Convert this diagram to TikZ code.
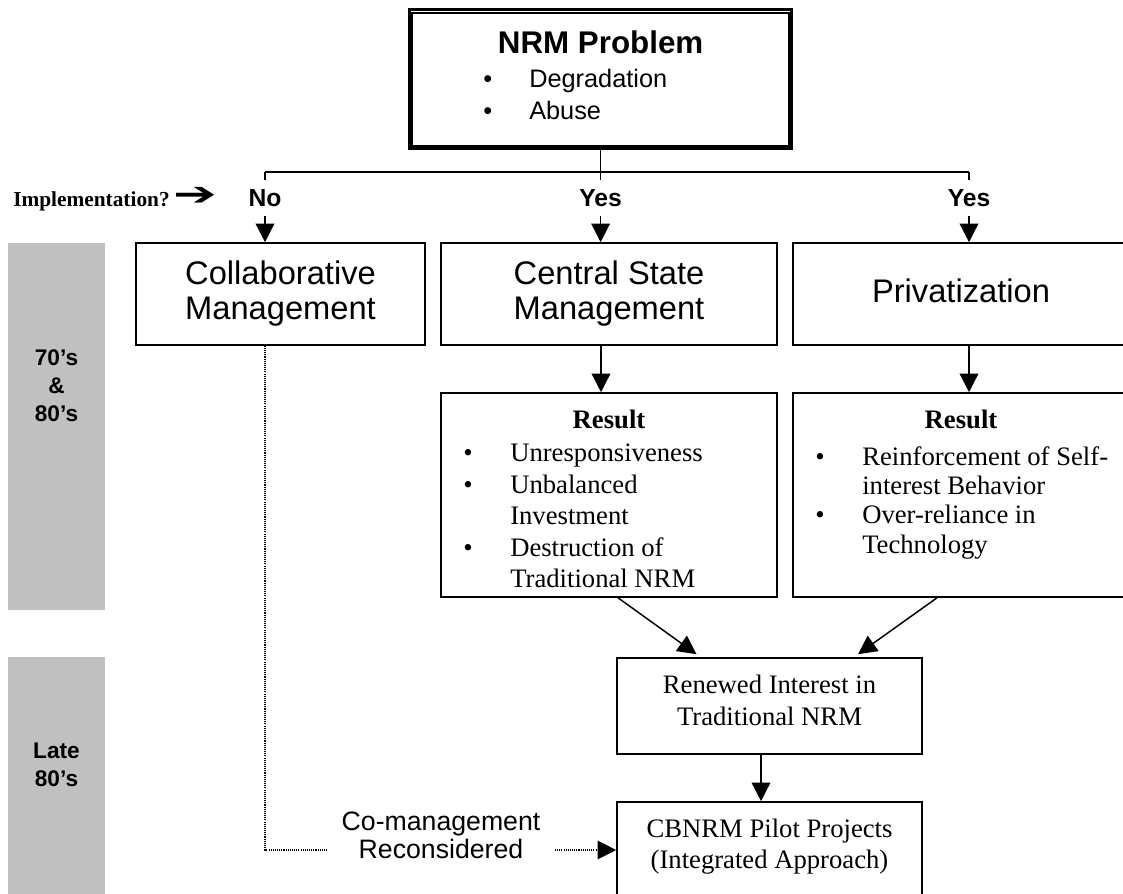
\documentclass[tikz,border=0pt]{standalone}
\usepackage{fontspec}
\setmainfont{Liberation Serif}
\newfontfamily\arialf{Liberation Sans}
\newfontfamily\dejavuf{DejaVu Sans}
\usetikzlibrary{arrows.meta,calc}

\newcommand\fs[2]{\fontsize{#1}{#2}\selectfont}

\begin{document}
\begin{tikzpicture}[x=0.75pt,y=-0.75pt,
  box/.style={draw,line width=1.2pt,inner sep=0pt,align=center},
  band/.style={fill={rgb,255:red,192;green,192;blue,192},draw=none,inner sep=0pt},
  bandtext/.style={font=\arialf\bfseries\fs{17}{21},inner sep=0pt,anchor=base},
  branch/.style={font=\arialf\bfseries\fs{18.5}{22},inner sep=0pt,minimum height={35*0.75pt}},
  arr/.style={-{Triangle[length=14pt,width=14pt]},line width=1.1pt},
  link/.style={line width=1.1pt},
  dots/.style={line width=0.8pt,dash pattern=on 0.8pt off 0.8pt},
  serifbody/.style={font=\fs{20}{23.6},inner sep=0pt},
]
\useasboundingbox (0,0) rectangle (1123,893);
\fill[white] (0,0) rectangle (1123,893);
\clip (0,0) rectangle (1123,893);

% period bands on the left
\node[band,minimum width={97*0.75pt},minimum height={367*0.75pt}] (band1) at (56.5,426.5) {};
\node[band,minimum width={97*0.75pt},minimum height={243*0.75pt}] (band2) at (56.5,778.5) {};
\node[bandtext] (band1t) at (56.5,365) {\begin{tabular}[t]{@{}c@{}}70’s\\\&\\80’s\end{tabular}};
\node[bandtext] (band2t) at (56.5,758) {\begin{tabular}[t]{@{}c@{}}Late\\80’s\end{tabular}};

% problem box with double frame
\node[draw,line width=2.25pt,inner sep=0pt,minimum width={382.3*0.75pt},minimum height={138.7*0.75pt}] (prob) at (600.6,79.2) {};
\draw[line width=1.3pt] ($(prob.north west)+(4.3,4.3)$) rectangle ($(prob.south east)+(-4.3,-4.3)$);
\node[anchor=base,font=\arialf\bfseries\fs{23.5}{28},inner sep=0pt] (probt) at (600.6,53) {NRM Problem};
\node[anchor=base west,font=\arialf\fs{19}{24},inner sep=0pt] (probl) at (483,87)
  {\begin{tabular}[t]{@{}p{34.5pt}@{}l@{}}\textbullet & Degradation\\ \textbullet & Abuse\end{tabular}};

% branching
\coordinate (busL) at (265,172);
\coordinate (busR) at (969,172);
\node[anchor=base west,font=\bfseries\fs{16}{19},inner sep=0pt] (impl) at (13,206)
  {Implementation?\hspace{3pt}\raisebox{0.3pt}{\scalebox{2.3}[1.45]{\dejavuf\fs{17}{19}➔}}};
\node[branch] (no) at (265,198) {No};
\node[branch] (yesA) at (600.6,198) {Yes};
\node[branch] (yesB) at (969,198) {Yes};
\draw[link] (prob.south) -- (prob.south |- busL);
\draw[link] (busL) -- (busR);
\draw[link] (busL) -- (no.north);
\draw[link] (prob.south |- busL) -- (yesA.north);
\draw[link] (busR) -- (yesB.north);

% management options
\node[box,minimum width={289*0.75pt},minimum height={102*0.75pt},font=\arialf\fs{24.5}{26.25}] (collab) at (280.5,294) {Collaborative\\Management};
\node[box,minimum width={336*0.75pt},minimum height={102*0.75pt},font=\arialf\fs{24.5}{26.25}] (cs) at (609,294) {Central State\\Management};
\node[box,minimum width={336*0.75pt},minimum height={102*0.75pt},font=\arialf\fs{24.5}{26.25},text depth=5pt] (priv) at (961,294) {Privatization};
\draw[arr] (no.south) -- (no.south |- collab.north);
\draw[arr] (yesA.south) -- (yesA.south |- cs.north);
\draw[arr] (yesB.south) -- (yesB.south |- priv.north);

% results
\node[box,minimum width={336*0.75pt},minimum height={204*0.75pt}] (csres) at (609,495) {};
\node[box,minimum width={336*0.75pt},minimum height={204*0.75pt}] (prres) at (961,495) {};
\draw[arr] ($(cs.south)+(-8,0)$) -- ($(csres.north)+(-8,0)$);
\draw[arr] ($(priv.south)+(8,0)$) -- ($(prres.north)+(8,0)$);
\node[anchor=base,font=\bfseries\fs{20}{24},inner sep=0pt] (csrest) at (609,428) {Result};
\node[anchor=base,font=\bfseries\fs{20}{24},inner sep=0pt] (prrest) at (961,428) {Result};
\begin{scope}
  \clip (441,393) rectangle (777,588);
  \node[serifbody,anchor=base west] (csresl) at (463,461.7)
    {\begin{tabular}[t]{@{}p{35.25pt}@{}l@{}}
      \textbullet & Unresponsiveness\\
      \textbullet & Unbalanced\\
                  & Investment\\
      \textbullet & Destruction of\\
                  & Traditional NRM
    \end{tabular}};
\end{scope}
\node[serifbody,font=\fs{20}{22.1},anchor=base west] (prresl) at (815,465)
  {\begin{tabular}[t]{@{}p{35.25pt}@{}l@{}}
    \textbullet & Reinforcement of Self-\\
                & interest Behavior\\
    \textbullet & Over-reliance in\\
                & Technology
  \end{tabular}};

% late 80's stage
\node[box,minimum width={305*0.75pt},minimum height={96*0.75pt}] (ren) at (769.5,706) {};
\node[anchor=base,font=\fs{20}{24},inner sep=0pt] (rent) at (769.5,693)
  {\begin{tabular}[t]{@{}c@{}}Renewed Interest in\\Traditional NRM\end{tabular}};
\node[box,minimum width={305*0.75pt},minimum height={128*0.75pt}] (cb) at (769.5,866) {};
\node[anchor=base,font=\fs{20}{23.25},inner sep=0pt] (cbt) at (769.5,837)
  {\begin{tabular}[t]{@{}c@{}}CBNRM Pilot Projects\\(Integrated Approach)\end{tabular}};
\draw[arr] ($(csres.south)+(9,0)$) -- ($(ren.north)+(-73,-3)$);
\draw[arr] ($(prres.south)+(-24,0)$) -- ($(ren.north)+(88.5,-3)$);
\draw[arr] ($(ren.south)+(-8.5,0)$) -- ($(cb.north)+(-8.5,0)$);

% co-management link
\node[anchor=base,font=\arialf\fs{20}{21},inner sep=0pt] (comg) at (441,830)
  {\begin{tabular}[t]{@{}c@{}}Co-management\\Reconsidered\end{tabular}};
\coordinate (dl) at (327,850);
\coordinate (dr) at (555,850);
\draw[dots] ($(collab.south)+(-15.5,0)$) |- (dl);
\draw[dots,-{Triangle[length=14pt,width=14pt]}] (dr) -- (dr -| cb.west);
\end{tikzpicture}
\end{document}
